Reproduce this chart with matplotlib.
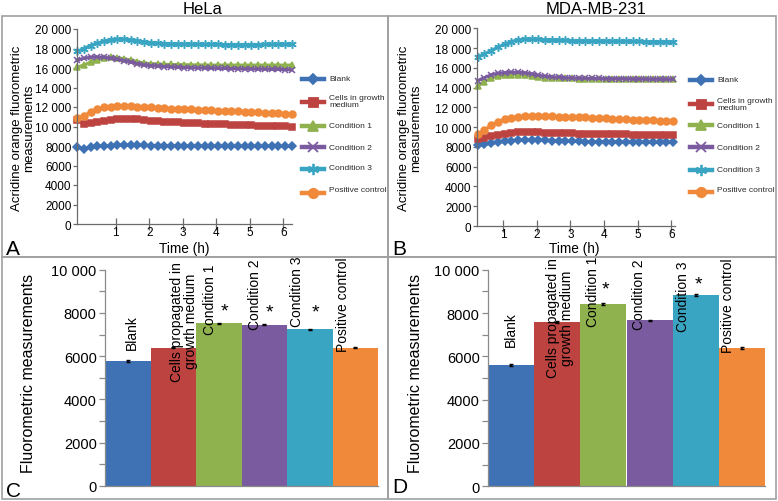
import numpy as np
import matplotlib
matplotlib.use("Agg")
import matplotlib.pyplot as plt
from matplotlib.patches import Rectangle

plt.rcParams['font.family'] = ['Liberation Sans', 'DejaVu Sans']

W, H = 778, 502

# ---- time-course data (panels A and B) ----
series_names = ['Blank', 'Cells in growth\nmedium', 'Condition 1', 'Condition 2',
                'Condition 3', 'Positive control']
colors = ['#3f72b5', '#bc4340', '#8fb24f', '#7b5b9f', '#3aa5c3', '#f08a3a']
markers = ['D', 's', '^', 'x', (6, 2, 0), 'o']
msizes = [4.0, 4.8, 5.0, 5.0, 6.0, 5.0]

t_hela = np.round(np.arange(33) * 0.2 - 0.15, 2)
hela_blank = [7850, 7700, 7850, 7950, 8000, 8050, 8100, 8100, 8100, 8080, 8060, 8050, 8040,
              8030, 8020, 8020, 8010, 8000, 8000, 8000, 7990, 7990, 7990, 7980, 7980, 7980,
              7980, 7970, 7970, 7970, 7960, 7960, 7950]
hela_cells = [10650, 10300, 10350, 10450, 10550, 10650, 10750, 10800, 10780, 10720, 10650,
              10600, 10550, 10500, 10450, 10420, 10380, 10350, 10320, 10300, 10270, 10250,
              10220, 10200, 10180, 10150, 10120, 10100, 10080, 10060, 10040, 10020, 10000]
hela_cond1 = [16100, 16300, 16600, 16850, 17000, 17100, 17050, 16950, 16800, 16650, 16500,
              16450, 16400, 16380, 16360, 16350, 16340, 16330, 16320, 16310, 16300, 16300,
              16300, 16300, 16300, 16300, 16300, 16300, 16300, 16300, 16300, 16300, 16300]
hela_cond2 = [16800, 17000, 17100, 17150, 17100, 17000, 16900, 16750, 16600, 16450, 16300,
              16250, 16200, 16150, 16100, 16080, 16050, 16020, 16000, 15990, 15980, 15960,
              15950, 15940, 15920, 15900, 15890, 15880, 15870, 15860, 15850, 15840, 15800]
hela_cond3 = [17700, 18000, 18300, 18550, 18750, 18900, 18950, 18950, 18900, 18800, 18700,
              18600, 18550, 18500, 18480, 18460, 18450, 18440, 18430, 18420, 18420, 18420,
              18410, 18410, 18410, 18410, 18410, 18410, 18420, 18420, 18430, 18440, 18450]
hela_pos = [10900, 11100, 11500, 11800, 11950, 12050, 12100, 12120, 12100, 12050, 12000,
            11950, 11900, 11870, 11840, 11810, 11780, 11750, 11720, 11690, 11660, 11630,
            11600, 11570, 11540, 11510, 11480, 11450, 11420, 11390, 11360, 11320, 11280]

t_mda = np.round(np.arange(30) * 0.2 + 0.25, 2)
mda_blank = [8200, 8250, 8350, 8450, 8550, 8620, 8680, 8700, 8700, 8680, 8650, 8620, 8600,
             8580, 8560, 8550, 8540, 8530, 8520, 8510, 8500, 8500, 8490, 8480, 8470, 8460,
             8460, 8450, 8450, 8450]
mda_cells = [8850, 8950, 9100, 9250, 9350, 9450, 9500, 9530, 9530, 9500, 9450, 9420, 9400,
             9380, 9360, 9340, 9320, 9310, 9300, 9290, 9280, 9270, 9260, 9250, 9240, 9230,
             9220, 9210, 9200, 9200]
mda_cond1 = [14200, 14600, 14950, 15150, 15250, 15300, 15300, 15280, 15200, 15100, 15000,
             14980, 14960, 14940, 14930, 14920, 14910, 14900, 14900, 14900, 14900, 14900,
             14900, 14900, 14900, 14900, 14900, 14900, 14900, 14900]
mda_cond2 = [14700, 15000, 15300, 15450, 15520, 15550, 15550, 15500, 15400, 15250, 15150,
             15100, 15050, 15000, 14980, 14960, 14950, 14940, 14930, 14920, 14910, 14900,
             14890, 14880, 14870, 14860, 14850, 14850, 14850, 14850]
mda_cond3 = [17100, 17400, 17750, 18100, 18400, 18650, 18850, 18900, 18900, 18880, 18850,
             18820, 18800, 18780, 18760, 18750, 18740, 18730, 18720, 18710, 18700, 18700,
             18690, 18680, 18670, 18660, 18650, 18650, 18650, 18650]
mda_pos = [9300, 9700, 10200, 10550, 10800, 10950, 11050, 11100, 11120, 11120, 11100, 11080,
           11060, 11040, 11020, 11000, 10980, 10950, 10920, 10890, 10860, 10830, 10800,
           10770, 10740, 10710, 10680, 10650, 10620, 10600]

# ---- endpoint bar data (panels C and D) ----
bar_labels = ['Blank', 'Cells propagated in\ngrowth medium', 'Condition 1', 'Condition 2',
              'Condition 3', 'Positive control']
hela_bars = [5780, 6390, 7520, 7460, 7250, 6390]
hela_err = [30, 30, 35, 30, 30, 30]
hela_star_idx = [2, 3, 4]
hela_star_y = [8100, 8050, 8050]
mda_bars = [5600, 7590, 8420, 7670, 8830, 6390]
mda_err = [30, 30, 35, 30, 30, 30]
mda_star_idx = [2, 4]
mda_star_y = [9100, 9350]

line_ticks = list(range(0, 20001, 2000))
line_ticklabels = ['0', '2000', '4000', '6000', '8000', '10 000', '12 000', '14 000',
                   '16 000', '18 000', '20 000']
bar_ticks = list(range(0, 10001, 2000))
bar_ticklabels = ['0', '2000', '4000', '6000', '8000', '10 000']

fig = plt.figure(figsize=(W / 100, H / 100), dpi=100)


def axes_px(l, t, r, b):
    return fig.add_axes([l / W, 1 - b / H, (r - l) / W, (b - t) / H])


def ftext(x, y, s, **kw):
    fig.text(x / W, 1 - y / H, s, **kw)


# panel frames
for (l, t, r, b) in [(2, 17, 387.5, 257.5), (387.5, 17, 776, 257.5),
                     (2, 257.5, 387.5, 499.5), (387.5, 257.5, 776, 499.5)]:
    fig.add_artist(Rectangle((l / W, 1 - b / H), (r - l) / W, (b - t) / H,
                             transform=fig.transFigure, fill=False,
                             edgecolor='#a0a0a0', lw=1.2))

spine_col = '#6a6a6a'


def line_panel(ax, t, ys, xlim):
    for y, c, m, ms in zip(ys, colors, markers, msizes):
        ax.plot(t, y, color=c, lw=2.2, marker=m, ms=ms, mew=1.1, mec=c, clip_on=False)
    ax.set_xlim(*xlim)
    ax.set_ylim(0, 20000)
    ax.set_xticks([1, 2, 3, 4, 5, 6])
    ax.set_yticks(line_ticks)
    ax.set_yticklabels(line_ticklabels)
    for s in ['top', 'right']:
        ax.spines[s].set_visible(False)
    for s in ['left', 'bottom']:
        ax.spines[s].set_color(spine_col)
        ax.spines[s].set_linewidth(0.9)
    ax.tick_params(axis='x', direction='inout', length=9, width=0.9, color=spine_col,
                   labelsize=8.5, pad=-3)
    ax.tick_params(axis='y', direction='out', length=3, width=0.9, color=spine_col,
                   labelsize=8.5, pad=1)


axA = axes_px(77, 30, 292, 225)
line_panel(axA, t_hela, [hela_blank, hela_cells, hela_cond1, hela_cond2, hela_cond3, hela_pos],
           (-0.155, 6.26))
axB = axes_px(477, 29.3, 675, 227)
line_panel(axB, t_mda, [mda_blank, mda_cells, mda_cond1, mda_cond2, mda_cond3, mda_pos],
           (0.229, 6.11))


def legend_panel(x0, rows):
    lax = axes_px(x0 - 8, 60, x0 + 88, 210)
    lax.set_xlim(x0 - 8, x0 + 88)
    lax.set_ylim(210, 60)
    lax.axis('off')
    for name, c, m, ms, (yh, yt) in zip(series_names, colors, markers, msizes, rows):
        lax.plot([x0, x0 + 22], [yh, yh], color=c, lw=3.2)
        lax.plot([x0 + 11], [yh], color=c, marker=m, ms=ms * 1.35, mew=1.3, mec=c)
        lax.text(x0 + 27, yt, name, fontsize=6, va='center', ha='left', color='#2a2a2a',
                 linespacing=1.15)


legend_panel(302, [(80, 79), (103, 102), (127, 126), (148, 148), (170, 169), (194, 191)])
legend_panel(690, [(81, 80), (105, 105), (126, 126), (148, 148), (171, 171), (193, 191)])

ylab = 'Acridine orange fluorometric\nmeasurements'
ftext(23, 128, ylab, rotation=90, ha='center', va='center', fontsize=9.5, linespacing=0.95)
ftext(410, 128, ylab, rotation=90, ha='center', va='center', fontsize=9.5, linespacing=1.05)
ftext(203, 9, 'HeLa', ha='center', va='center', fontsize=12)
ftext(596, 9, 'MDA-MB-231', ha='center', va='center', fontsize=12)
ftext(184, 249, 'Time (h)', ha='center', va='center', fontsize=9.8)
ftext(574, 249, 'Time (h)', ha='center', va='center', fontsize=9.8)
ftext(6, 255, 'A', ha='left', va='baseline', fontsize=15)
ftext(392, 255, 'B', ha='left', va='baseline', fontsize=15)
ftext(6, 497, 'C', ha='left', va='baseline', fontsize=15)
ftext(392, 493, 'D', ha='left', va='baseline', fontsize=15)

# label layout for bar panels: (x offset, bottom of rotated text in data units)
hela_lab_pos = [(0.1, 6330), (0.24, 4870), (-0.19, 7030), (-0.21, 7260), (-0.27, 7410),
                (-0.28, 6260)]
mda_lab_pos = [(0.0, 6490), (0.07, 5050), (-0.22, 7390), (-0.23, 7260), (-0.28, 7180),
               (-0.3, 6190)]


def bar_panel(ax, vals, errs, star_idx, star_y, star_dx, lab_pos):
    x = np.arange(len(vals))
    ax.bar(x, vals, width=1.0, color=colors, edgecolor='none', zorder=2)
    ax.errorbar(x, vals, yerr=errs, fmt='none', ecolor='black', elinewidth=1.2,
                capsize=1.5, capthick=1.0, zorder=3)
    for i, ys in zip(star_idx, star_y):
        ax.text(i + star_dx, ys, '*', ha='center', va='center', fontsize=14, zorder=4)
    for i, (lab, (dx, yb)) in enumerate(zip(bar_labels, lab_pos)):
        ax.text(i + dx, yb, lab, rotation=90, ha='center', va='bottom', fontsize=10,
                linespacing=1.0, zorder=4)
    ax.set_xlim(-0.5, 5.5)
    ax.set_ylim(0, 10000)
    ax.set_xticks([])
    ax.set_yticks(bar_ticks)
    ax.set_yticklabels(bar_ticklabels)
    ax.set_yticks(list(range(1000, 10000, 2000)), minor=True)
    for s in ['top', 'right']:
        ax.spines[s].set_visible(False)
    for s in ['left', 'bottom']:
        ax.spines[s].set_color('#8a8a8a')
        ax.spines[s].set_linewidth(0.9)
    ax.tick_params(axis='y', which='both', direction='out', length=4, width=0.9,
                   color='#8a8a8a', labelsize=10.5, pad=2)


axC = axes_px(105, 270.7, 378, 487)
bar_panel(axC, hela_bars, hela_err, hela_star_idx, hela_star_y, 0.12, hela_lab_pos)
axD = axes_px(488, 270.7, 765, 487.3)
bar_panel(axD, mda_bars, mda_err, mda_star_idx, mda_star_y, 0.05, mda_lab_pos)

ftext(29, 373, 'Fluorometric measurements', rotation=90, ha='center', va='center', fontsize=11.5)
ftext(416, 373, 'Fluorometric measurements', rotation=90, ha='center', va='center', fontsize=11.5)

fig.savefig('out.png', dpi=100)
